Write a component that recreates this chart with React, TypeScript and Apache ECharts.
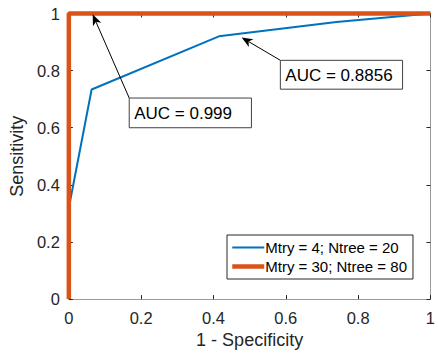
import React, { useEffect, useRef } from "react";
import * as echarts from "echarts";

const seriesNames = ["Mtry = 4; Ntree = 20", "Mtry = 30; Ntree = 80"];
const blueFpr = [0, 0, 0.063, 0.415, 0.74, 1];
const blueTpr = [0, 0.32, 0.734, 0.92, 0.97, 1];
const orangeFpr = [0, 0, 1];
const orangeTpr = [0, 1, 1];
const xTicks = [0, 0.2, 0.4, 0.6, 0.8, 1];
const yTicks = [0, 0.2, 0.4, 0.6, 0.8, 1];
const annLabels = ["AUC = 0.999", "AUC = 0.8856"];
// box: left, top, right, bottom (data coords); tip: x, y
const annBoxes = [
  [0.167, 0.704, 0.505, 0.6],
  [0.585, 0.836, 0.923, 0.735],
];
const annTips = [
  [0.066, 0.997],
  [0.478, 0.916],
];

const FONT = "Liberation Sans, Arial, Helvetica, sans-serif";

export default function App() {
  const ref = useRef<HTMLDivElement>(null);
  useEffect(() => {
    if (!ref.current) return;
    const chart = echarts.init(ref.current, undefined, { renderer: "svg" });
    const blueData = blueFpr.map((x, i) => [x, blueTpr[i]]);
    const orangeData = orangeFpr.map((x, i) => [x, orangeTpr[i]]);
    const annData = annBoxes.map((b, i) => [b[0], b[1], b[2], b[3], annTips[i][0], annTips[i][1]]);
    const axisCommon = {
      type: "value",
      min: 0,
      max: 1,
      interval: 0.2,
      splitLine: { show: false },
      axisLine: { show: true, onZero: false, lineStyle: { color: "#9a9a9a", width: 1 } },
      axisTick: { show: true, inside: true, length: 4, lineStyle: { color: "#262626" } },
    };
    chart.setOption({
      animation: false,
      grid: { left: 67, right: 7, top: 13.5, bottom: 53 },
      xAxis: [
        {
          ...axisCommon,
          position: "bottom",
          name: "1 - Specificity",
          nameLocation: "middle",
          nameGap: 31,
          nameTextStyle: { fontSize: 18, color: "#262626", fontFamily: FONT },
          axisLabel: {
            margin: 10,
            fontSize: 16.5,
            color: "#262626",
            fontFamily: FONT,
            formatter: (v: number) => String(xTicks.find((t) => Math.abs(t - v) < 1e-9) ?? v),
          },
        },
        {
          ...axisCommon,
          position: "top",
          axisLabel: { show: false },
        },
      ],
      yAxis: [
        {
          ...axisCommon,
          position: "left",
          name: "Sensitivity",
          nameLocation: "middle",
          nameGap: 39,
          nameTextStyle: { fontSize: 18, color: "#262626", fontFamily: FONT },
          axisLabel: {
            margin: 9,
            fontSize: 16.5,
            color: "#262626",
            fontFamily: FONT,
            formatter: (v: number) => String(yTicks.find((t) => Math.abs(t - v) < 1e-9) ?? v),
          },
        },
        {
          ...axisCommon,
          position: "right",
          axisLabel: { show: false },
        },
      ],
      legend: {
        data: [
          { name: seriesNames[0], itemStyle: { opacity: 0 }, lineStyle: { width: 2 } },
          { name: seriesNames[1], itemStyle: { opacity: 0 }, lineStyle: { width: 4.5 } },
        ],
        orient: "vertical",
        left: 227,
        top: 235,
        padding: [5, 6, 5, 3],
        itemGap: 4,
        itemWidth: 32,
        itemHeight: 14,
        backgroundColor: "#ffffff",
        borderColor: "#262626",
        borderWidth: 1,
        borderRadius: 0,
        textStyle: { fontSize: 15, color: "#000", fontFamily: FONT, padding: [0, 0, 0, -4] },
      },
      series: [
        {
          name: seriesNames[0],
          type: "line",
          data: blueData,
          showSymbol: false,
          symbol: "none",
          clip: false,
          lineStyle: { color: "#0072BD", width: 2 },
          itemStyle: { color: "#0072BD" },
          z: 2,
        },
        {
          name: seriesNames[1],
          type: "line",
          data: orangeData,
          showSymbol: false,
          symbol: "none",
          clip: false,
          lineStyle: { color: "#D95319", width: 4.5 },
          itemStyle: { color: "#D95319" },
          z: 3,
        },
        {
          type: "custom",
          silent: true,
          z: 5,
          data: annData,
          encode: { x: [0, 2, 4], y: [1, 3, 5] },
          renderItem: (params: any, api: any) => {
            const i = params.dataIndex;
            const p0 = api.coord([api.value(0), api.value(1)]);
            const p1 = api.coord([api.value(2), api.value(3)]);
            const tip = api.coord([api.value(4), api.value(5)]);
            const dx = tip[0] - p0[0];
            const dy = tip[1] - p0[1];
            const len = Math.sqrt(dx * dx + dy * dy);
            const ux = dx / len;
            const uy = dy / len;
            const nx = -uy;
            const ny = ux;
            const hl = 11;
            const hw = 4.5;
            const bx = tip[0] - ux * hl;
            const by = tip[1] - uy * hl;
            const notch = [tip[0] - ux * 8, tip[1] - uy * 8];
            return {
              type: "group",
              children: [
                {
                  type: "line",
                  shape: { x1: p0[0], y1: p0[1], x2: notch[0], y2: notch[1] },
                  style: { stroke: "#000", lineWidth: 1 },
                },
                {
                  type: "polygon",
                  shape: {
                    points: [
                      [tip[0], tip[1]],
                      [bx + nx * hw, by + ny * hw],
                      notch,
                      [bx - nx * hw, by - ny * hw],
                    ],
                  },
                  style: { fill: "#000" },
                },
                {
                  type: "rect",
                  shape: { x: p0[0], y: p0[1], width: p1[0] - p0[0], height: p1[1] - p0[1] },
                  style: { fill: "#fff", stroke: "#404040", lineWidth: 1 },
                },
                {
                  type: "text",
                  x: p0[0] + 5,
                  y: (p0[1] + p1[1]) / 2 + 1,
                  style: {
                    text: annLabels[i],
                    fontSize: 17,
                    fontFamily: FONT,
                    fill: "#000",
                    align: "left",
                    verticalAlign: "middle",
                  },
                },
              ],
            };
          },
        },
      ],
    });
    return () => chart.dispose();
  }, []);
  return <div ref={ref} style={{ width: 438, height: 354, position: "absolute", left: 0, top: 0 }} />;
}
